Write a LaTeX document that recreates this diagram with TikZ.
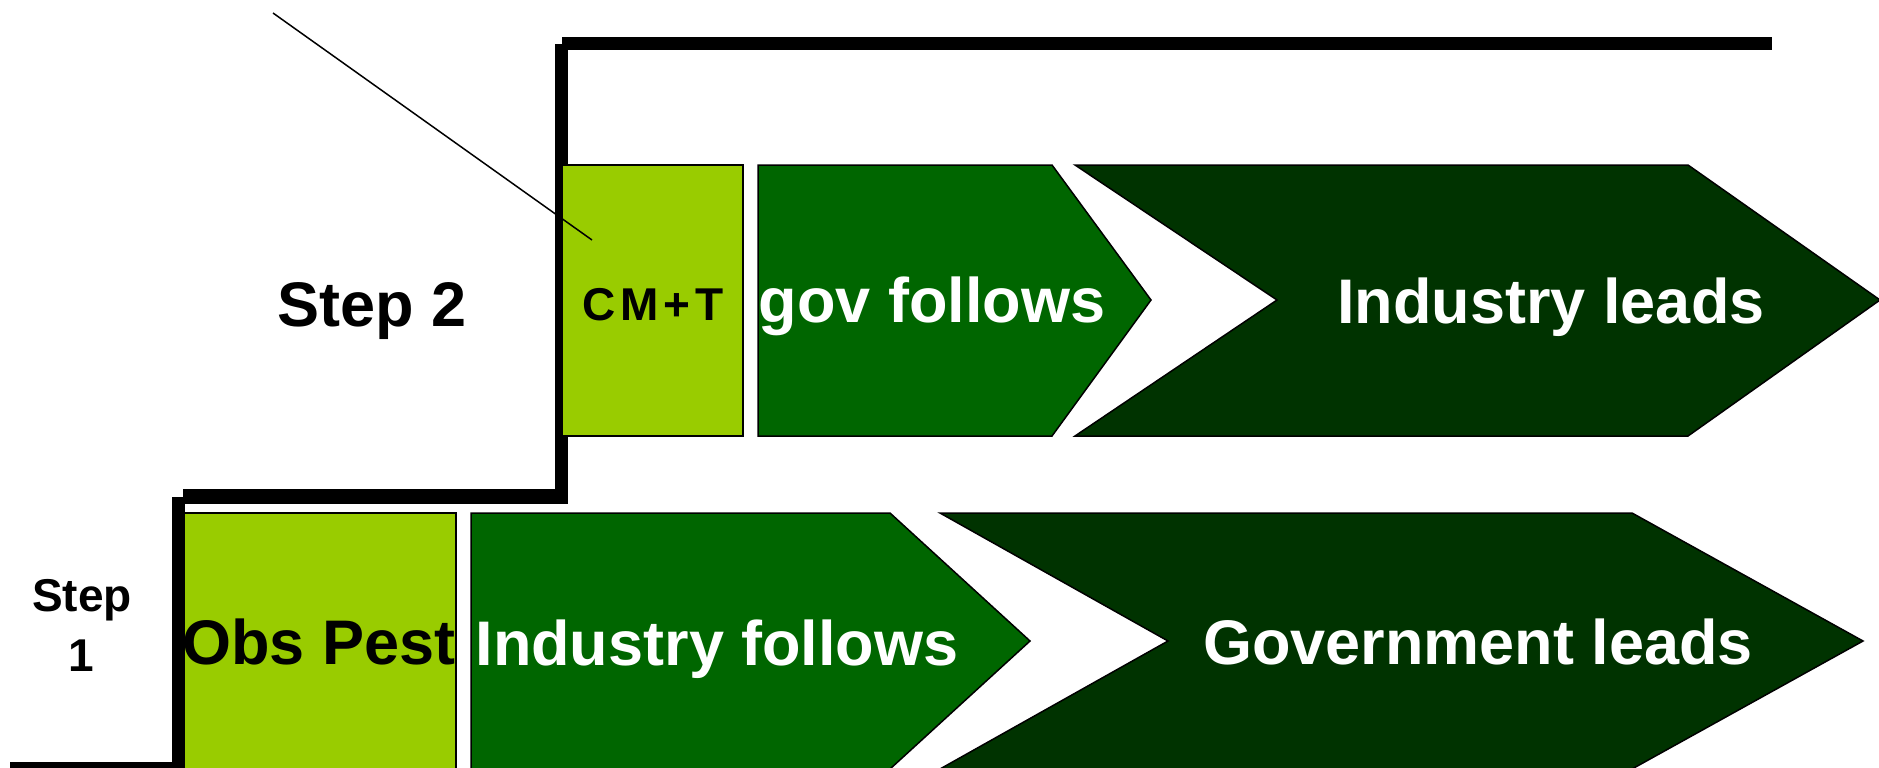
\documentclass[tikz,border=0pt]{standalone}
\usepackage{fontspec}
\setmainfont{Liberation Sans}
\newfontfamily\cmfont{Liberation Sans}[LetterSpace=10.0]
\definecolor{lightg}{HTML}{99CC00}
\definecolor{midg}{HTML}{006600}
\definecolor{darkg}{HTML}{003300}
\begin{document}
\begin{tikzpicture}[x=1pt,y=-1pt,
  stair/.style={fill=black,draw=none},
  lbox/.style={fill=lightg,draw=black,line width=1.5pt},
  mbox/.style={fill=midg,draw=black,line width=1.5pt},
  dbox/.style={fill=darkg,draw=black,line width=1.5pt},
  bigw/.style={anchor=base,text=white,font=\fontsize{63}{70}\selectfont\bfseries,inner sep=0pt},
  bigk/.style={anchor=base,text=black,font=\fontsize{63}{70}\selectfont\bfseries,inner sep=0pt},
  smallk/.style={anchor=base,text=black,font=\fontsize{46}{52}\selectfont\bfseries,inner sep=0pt}]
\useasboundingbox (0,0) rectangle (1879,768);
\fill[white] (0,0) rectangle (1879,768);
% staircase
\fill[stair] (10,762) rectangle (180,776);
\fill[stair] (172,497) rectangle (185,770);
\fill[stair] (183,489) rectangle (568,504);
\fill[stair] (555,44) rectangle (568,497);
\fill[stair] (562,37) rectangle (1772,50);
% top row
\draw[lbox] (562,165) rectangle (743,436);
\draw[mbox] (758,165) -- (1052,165) -- (1151,300) -- (1052,436) -- (758,436) -- cycle;
\draw[dbox] (1075,165) -- (1688,165) -- (1880,300) -- (1688,436) -- (1075,436) -- (1277,300) -- cycle;
% bottom row
\draw[lbox] (184,513) rectangle (456,772);
\draw[mbox] (471,513) -- (890,513) -- (1030,641) -- (890,769) -- (471,769) -- cycle;
\draw[dbox] (940,513) -- (1632,513) -- (1863,641) -- (1632,769) -- (940,769) -- (1168,641) -- cycle;
% diagonal line
\coordinate (d1) at (273,13);
\coordinate (d2) at (592,240);
\draw[line width=1.5pt] (d1) -- (d2);
% texts
\node[bigk] (s2) at (372,326) {Step 2};
\node[smallk,font=\fontsize{46}{52}\selectfont\cmfont\bfseries] (cmt) at (653,320) {CM+T};
\node[bigw] (gf) at (932,322) {gov follows};
\node[bigw] (il) at (1551,323) {Industry leads};
\node[bigk] (op) at (319,664) {Obs Pest};
\node[bigw] (inf) at (717,665) {Industry follows};
\node[bigw] (gl) at (1478,664) {Government leads};
\node[smallk] (s1a) at (82,611) {Step};
\node[smallk] (s1b) at (81,671) {1};
\end{tikzpicture}
\end{document}
